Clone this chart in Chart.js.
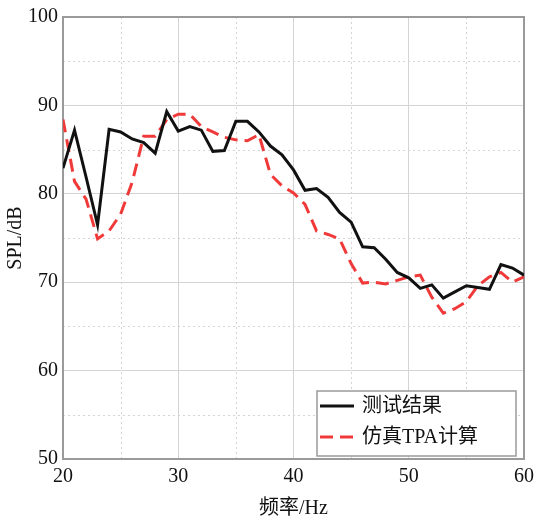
<!DOCTYPE html>
<html>
<head>
<meta charset="utf-8">
<script src="https://cdn.jsdelivr.net/npm/chart.js@4/dist/chart.umd.min.js"></script>
<style>
  html, body { margin: 0; padding: 0; background: #fff; }
  #wrap { width: 540px; height: 521px; }
</style>
</head>
<body>
<div id="wrap"><canvas id="c" width="540" height="521"></canvas></div>
<script>
// ---- data ----
const frequencies = [20,21,22,23,24,25,26,27,28,29,30,31,32,33,34,35,36,37,38,39,40,41,42,43,44,45,46,47,48,49,50,51,52,53,54,55,56,57,58,59,60];
const measured = [82.9,87.2,81.9,76.5,87.3,87.0,86.2,85.8,84.6,89.3,87.1,87.6,87.2,84.8,84.9,88.2,88.2,87.0,85.4,84.4,82.7,80.4,80.6,79.6,77.9,76.8,74.0,73.9,72.6,71.1,70.5,69.3,69.7,68.2,68.9,69.6,69.4,69.2,72.0,71.6,70.8];
const simulated = [88.4,81.4,79.4,74.9,75.8,77.7,81.3,86.5,86.5,88.4,89.0,89.0,87.6,87.0,86.4,86.1,86.0,86.7,82.2,80.9,80.1,78.8,75.8,75.4,74.9,72.1,69.9,70.0,69.8,70.2,70.6,70.8,68.3,66.5,67.0,67.8,69.6,70.6,71.1,70.0,70.6];
const seriesNames = ['测试结果', '仿真TPA计算'];
const xTitle = '频率/Hz';
const yTitle = 'SPL/dB';
const xMinorTicks = [25,35,45,55];
const yMinorTicks = [55,65,75,85,95];

const toPts = (arr) => arr.map((v, i) => ({ x: frequencies[i], y: v }));

const serif = '"Liberation Serif", "Times New Roman", "Noto Sans CJK SC", serif';

const frameAndMinor = {
  id: 'frameAndMinor',
  beforeDatasetsDraw(chart) {
    const { ctx, chartArea: a, scales } = chart;
    ctx.save();
    ctx.strokeStyle = '#d4d4d4';
    ctx.lineWidth = 1;
    ctx.setLineDash([2, 3]);
    yMinorTicks.forEach(v => {
      const y = Math.round(scales.y.getPixelForValue(v)) + 0.5;
      ctx.beginPath(); ctx.moveTo(a.left, y); ctx.lineTo(a.right, y); ctx.stroke();
    });
    xMinorTicks.forEach(v => {
      const x = Math.round(scales.x.getPixelForValue(v)) + 0.5;
      ctx.beginPath(); ctx.moveTo(x, a.top); ctx.lineTo(x, a.bottom); ctx.stroke();
    });
    ctx.setLineDash([]);
    ctx.strokeStyle = '#9a9a9a';
    ctx.lineWidth = 2;
    ctx.strokeRect(a.left, a.top, a.right - a.left, a.bottom - a.top);
    ctx.restore();
  }
};

const boxLegend = {
  id: 'boxLegend',
  afterDatasetsDraw(chart) {
    const { ctx } = chart;
    const x0 = 317, y0 = 391, w = 199, h = 65;
    ctx.save();
    ctx.fillStyle = '#fff';
    ctx.fillRect(x0, y0, w, h);
    ctx.strokeStyle = '#9a9a9a';
    ctx.lineWidth = 1.5;
    ctx.strokeRect(x0, y0, w, h);
    const rows = [406, 437];
    chart.data.datasets.forEach((ds, i) => {
      const y = rows[i];
      ctx.strokeStyle = ds.borderColor;
      ctx.lineWidth = ds.borderWidth;
      ctx.setLineDash(ds.borderDash || []);
      ctx.beginPath(); ctx.moveTo(320, y); ctx.lineTo(354, y); ctx.stroke();
      ctx.setLineDash([]);
      ctx.fillStyle = '#111';
      ctx.font = '20px ' + serif;
      ctx.textBaseline = 'middle';
      ctx.textAlign = 'left';
      ctx.fillText(ds.label, 362, y + 1);
    });
    ctx.restore();
  }
};

new Chart(document.getElementById('c'), {
  type: 'line',
  data: {
    datasets: [
      { label: seriesNames[0], data: toPts(measured), borderColor: '#111111', borderWidth: 3, pointRadius: 0, tension: 0, fill: false },
      { label: seriesNames[1], data: toPts(simulated), borderColor: '#f03a3a', borderWidth: 3, borderDash: [13, 7], pointRadius: 0, tension: 0, fill: false }
    ]
  },
  options: {
    responsive: false,
    animation: false,
    layout: { padding: { left: 0, right: 14, top: 14, bottom: 0 } },
    plugins: { legend: { display: false }, tooltip: { enabled: false } },
    scales: {
      x: {
        type: 'linear', min: 20, max: 60,
        ticks: { stepSize: 10, color: '#111', font: { family: serif, size: 20 }, padding: 6, maxRotation: 0 },
        grid: { color: '#d4d4d4', lineWidth: 1, drawTicks: false },
        border: { display: false },
        title: { display: true, text: xTitle, color: '#111', font: { family: serif, size: 20 }, padding: { top: 0, bottom: 0 } },
        afterFit(s) { s.height = 62; }
      },
      y: {
        min: 50, max: 100,
        ticks: { stepSize: 10, color: '#111', font: { family: serif, size: 20 }, padding: 5 },
        grid: { color: '#d4d4d4', lineWidth: 1, drawTicks: false },
        border: { display: false },
        title: { display: true, text: yTitle, color: '#111', font: { family: serif, size: 20 }, padding: { top: 4, bottom: 0 } },
        afterFit(s) { s.width = 63; }
      }
    }
  },
  plugins: [frameAndMinor, boxLegend]
});
</script>
</body>
</html>
